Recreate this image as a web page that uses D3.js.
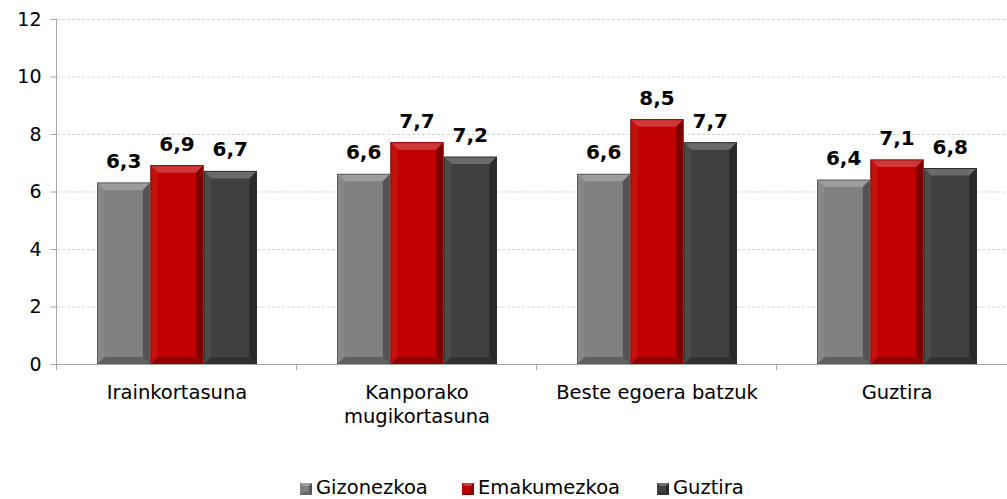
<!DOCTYPE html>
<html><head><meta charset="utf-8">
<script src="https://cdn.jsdelivr.net/npm/d3@7"></script>
<style>body{margin:0;background:#fff;}svg{display:block;font-family:"DejaVu Sans",Verdana,sans-serif;}</style>
</head><body>
<svg id="c" width="1007" height="499"></svg>
<script>
const categories = [["Irainkortasuna"], ["Kanporako", "mugikortasuna"], ["Beste egoera batzuk"], ["Guztira"]];
const seriesNames = ["Gizonezkoa", "Emakumezkoa", "Guztira"];
const gizonezkoa = [6.3, 6.6, 6.6, 6.4];
const emakumezkoa = [6.9, 7.7, 8.5, 7.1];
const guztira = [6.7, 7.2, 7.7, 6.8];
const yTicks = [0, 2, 4, 6, 8, 10, 12];
const colors = ["#808080", "#c00000", "#404040"];

(function () {
const series = [gizonezkoa, emakumezkoa, guztira];
const svg = d3.select("#c");
const pL = 57, pR = 1017, pT = 19, pB = 364;
const x = d3.scaleBand().domain(d3.range(categories.length)).range([pL, pR]).paddingInner(0).paddingOuter(0);
const y = d3.scaleLinear().domain([0, 12]).range([pB, pT]);
const inner = d3.scaleBand().domain(d3.range(3)).range([0, x.bandwidth()]).paddingInner(0.0).paddingOuter(0.75);

// gridlines
svg.append("g").selectAll("line").data(yTicks.filter(d => d > 0)).join("line")
  .attr("x1", pL).attr("x2", pR).attr("y1", d => y(d) + 0.5).attr("y2", d => y(d) + 0.5)
  .attr("stroke", "#d4d4d4").attr("stroke-dasharray", "3,2").attr("stroke-width", 1);

// y axis
const yAxis = svg.append("g").attr("transform", `translate(${pL - 0.5},0)`)
  .call(d3.axisLeft(y).tickValues(yTicks).tickSize(6).tickPadding(9).tickFormat(d3.format("d")));
yAxis.select(".domain").attr("stroke", "#a6a6a6").attr("d", `M0,${pT}V${pB + 6}`);
yAxis.selectAll(".tick line").attr("stroke", "#a6a6a6");
yAxis.selectAll(".tick text").attr("font-size", 19).attr("fill", "#000").attr("font-family", "DejaVu Sans, Verdana, sans-serif");

function shade(c, k) {
  const col = d3.color(c);
  return k > 0 ? d3.interpolateRgb(col, "#fff")(k) : d3.interpolateRgb(col, "#000")(-k);
}

// bars
const bars = svg.append("g");
categories.forEach((cat, ci) => {
  series.forEach((vals, si) => {
    const bx = x(ci) + inner(si) + 0.5;
    const bw = inner.bandwidth() - 1;
    const by = y(vals[ci]);
    const bh = y(0) - by;
    const b = 7;
    const c = colors[si];
    const g = bars.append("g");
    g.append("rect").attr("x", bx).attr("y", by).attr("width", bw).attr("height", bh).attr("fill", c);
    const x0 = bx, x1 = bx + bw, y0 = by, y1 = by + bh;
    g.append("polygon").attr("points", [[x0, y0], [x1, y0], [x1 - b, y0 + b], [x0 + b, y0 + b]].join(" ")).attr("fill", shade(c, 0.22));
    g.append("polygon").attr("points", [[x0, y0], [x0 + b, y0 + b], [x0 + b, y1 - b], [x0, y1]].join(" ")).attr("fill", shade(c, 0.06));
    g.append("polygon").attr("points", [[x1, y0], [x1, y1], [x1 - b, y1 - b], [x1 - b, y0 + b]].join(" ")).attr("fill", shade(c, -0.35));
    g.append("polygon").attr("points", [[x0, y1], [x1, y1], [x1 - b, y1 - b], [x0 + b, y1 - b]].join(" ")).attr("fill", shade(c, -0.25));
    g.append("rect").attr("x", bx).attr("y", by).attr("width", bw).attr("height", bh).attr("fill", "none").attr("stroke", shade(c, -0.3)).attr("stroke-width", 1);
    svg.append("text").attr("x", bx + bw / 2).attr("y", by - 15).attr("text-anchor", "middle")
      .attr("font-size", 20).attr("font-weight", "bold").attr("fill", "#000")
      .text(d3.format(".1f")(vals[ci]).replace(".", ","));
  });
});

// x axis
const xAxisG = svg.append("g");
xAxisG.append("line").attr("x1", pL).attr("x2", pR).attr("y1", pB + 0.5).attr("y2", pB + 0.5).attr("stroke", "#a6a6a6");
xAxisG.selectAll("line.t").data(d3.range(categories.length + 1)).join("line").attr("class", "t")
  .attr("x1", d => pL + d * x.bandwidth() - 0.5).attr("x2", d => pL + d * x.bandwidth() - 0.5)
  .attr("y1", pB).attr("y2", pB + 6).attr("stroke", "#a6a6a6");
categories.forEach((lines, ci) => {
  const t = xAxisG.append("text").attr("text-anchor", "middle").attr("font-size", 19.5).attr("fill", "#000");
  lines.forEach((ln, li) => {
    t.append("tspan").attr("x", x(ci) + x.bandwidth() / 2).attr("y", 399 + li * 24).text(ln);
  });
});

// legend
const legendX = [300, 462, 657];
const lg = svg.append("g");
seriesNames.forEach((n, i) => {
  const c = colors[i];
  const mx = legendX[i], my = 483, s = 12;
  lg.append("rect").attr("x", mx).attr("y", my).attr("width", s).attr("height", s).attr("fill", c);
  lg.append("polygon").attr("points", [[mx, my], [mx + s, my], [mx + s - 3, my + 3], [mx + 3, my + 3]].join(" ")).attr("fill", shade(c, 0.25));
  lg.append("polygon").attr("points", [[mx + s, my], [mx + s, my + s], [mx + s - 3, my + s - 3], [mx + s - 3, my + 3]].join(" ")).attr("fill", shade(c, -0.35));
  lg.append("polygon").attr("points", [[mx, my + s], [mx + s, my + s], [mx + s - 3, my + s - 3], [mx + 3, my + s - 3]].join(" ")).attr("fill", shade(c, -0.2));
  lg.append("text").attr("x", mx + s + 4).attr("y", 494).attr("font-size", 19.5).attr("fill", "#000").text(n);
});
})();
</script>
</body></html>
